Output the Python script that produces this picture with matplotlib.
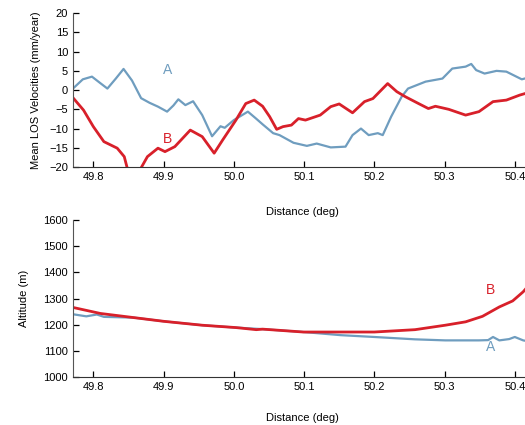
import matplotlib
matplotlib.use('Agg')
from matplotlib import pyplot as plt

plt.rcParams['font.family'] = ['Liberation Sans', 'DejaVu Sans']

# top panel: mean LOS velocities (mm/year)
vel_a_x = [49.771, 49.785, 49.798, 49.81, 49.82, 49.832, 49.843, 49.855, 49.868,
           49.88, 49.892, 49.905, 49.914, 49.921, 49.931, 49.942, 49.955, 49.969,
           49.981, 49.987, 50.0, 50.02, 50.031, 50.041, 50.056, 50.065, 50.085,
           50.104, 50.118, 50.138, 50.159, 50.169, 50.181, 50.192, 50.205, 50.212,
           50.224, 50.239, 50.248, 50.273, 50.297, 50.311, 50.33, 50.338, 50.345,
           50.357, 50.374, 50.388, 50.41, 50.424]
vel_a = [0.4, 2.8, 3.5, 1.8, 0.4, 3.0, 5.5, 2.5, -2.1,
         -3.3, -4.3, -5.6, -4.0, -2.4, -3.9, -2.9, -6.5, -12.0,
         -9.4, -9.8, -7.8, -5.6, -7.3, -8.9, -11.2, -11.7, -13.7,
         -14.5, -13.9, -14.9, -14.7, -11.7, -10.0, -11.7, -11.2, -11.7,
         -6.9, -1.7, 0.4, 2.2, 3.0, 5.6, 6.1, 6.8, 5.2,
         4.3, 5.0, 4.8, 2.8, 3.5]

vel_b_x = [49.772, 49.786, 49.8, 49.815, 49.834, 49.844, 49.85, 49.857, 49.864,
           49.877, 49.892, 49.902, 49.916, 49.938, 49.955, 49.972, 49.984, 50.003,
           50.017, 50.029, 50.041, 50.051, 50.061, 50.07, 50.082, 50.092, 50.102,
           50.123, 50.138, 50.15, 50.169, 50.186, 50.198, 50.219, 50.232, 50.244,
           50.263, 50.277, 50.287, 50.306, 50.33, 50.349, 50.369, 50.388, 50.407,
           50.424]
vel_b = [-2.2, -5.2, -9.5, -13.4, -15.1, -17.3, -21.5, -24.0, -21.5,
         -17.3, -15.1, -16.0, -14.7, -10.4, -12.1, -16.4, -13.0, -7.8,
         -3.5, -2.6, -4.2, -6.9, -10.2, -9.5, -9.1, -7.4, -7.8,
         -6.5, -4.3, -3.6, -5.9, -3.0, -2.2, 1.7, -0.4, -1.7,
         -3.5, -4.8, -4.2, -5.0, -6.5, -5.6, -3.0, -2.6, -1.3,
         -0.4]

# bottom panel: altitude (m)
alt_a_x = [49.771, 49.79, 49.805, 49.815, 49.858, 49.9, 49.955, 50.003, 50.041,
           50.099, 50.152, 50.2, 50.258, 50.301, 50.349, 50.362, 50.369, 50.378,
           50.392, 50.4, 50.412, 50.424]
alt_a = [1240, 1232, 1239, 1230, 1227, 1213, 1198, 1189, 1183,
         1172, 1160, 1153, 1144, 1140, 1140, 1141, 1153, 1140,
         1145, 1153, 1140, 1134]

alt_b_x = [49.771, 49.81, 49.858, 49.9, 49.955, 50.003, 50.032, 50.041, 50.099,
           50.2, 50.258, 50.301, 50.33, 50.354, 50.378, 50.397, 50.412, 50.424]
alt_b = [1266, 1243, 1227, 1213, 1198, 1189, 1181, 1183, 1172,
         1172, 1181, 1198, 1211, 1232, 1268, 1291, 1326, 1364]

xticks = [49.8, 49.9, 50.0, 50.1, 50.2, 50.3, 50.4]

blue = '#6f9dbf'
red = '#d8202a'

fig = plt.figure(figsize=(5.25, 4.25), dpi=100)
ax1 = fig.add_axes([0.139, 0.607, 0.875, 0.362])
ax2 = fig.add_axes([0.139, 0.113, 0.875, 0.369])

ax1.plot(vel_a_x, vel_a, color=blue, lw=1.6)
ax1.plot(vel_b_x, vel_b, color=red, lw=2.0)
ax1.set_ylim(-20, 20)
ax1.set_yticks(range(-20, 21, 5))
ax1.set_ylabel('Mean LOS Velocities (mm/year)', fontsize=8, labelpad=6)
ax1.text(49.906, 5.2, 'A', color=blue, fontsize=10, ha='center', va='center')
ax1.text(49.906, -12.6, 'B', color=red, fontsize=10, ha='center', va='center')

ax2.plot(alt_a_x, alt_a, color=blue, lw=1.6)
ax2.plot(alt_b_x, alt_b, color=red, lw=2.0)
ax2.set_ylim(1000, 1600)
ax2.set_yticks(range(1000, 1601, 100))
ax2.set_ylabel('Altitude (m)', fontsize=8, labelpad=10)
ax2.text(50.366, 1332, 'B', color=red, fontsize=10, ha='center', va='center')
ax2.text(50.366, 1115, 'A', color=blue, fontsize=10, ha='center', va='center')

for ax, pad in ((ax1, 18), (ax2, 15)):
    ax.set_xlim(49.771, 50.425)
    ax.set_xticks(xticks)
    ax.set_xticklabels([f'{t:.1f}' for t in xticks])
    ax.set_xlabel('Distance (deg)', fontsize=8, labelpad=pad)
    ax.spines['top'].set_visible(False)
    ax.spines['right'].set_visible(False)
    ax.spines['left'].set_color('#555555')
    ax.spines['bottom'].set_color('#333333')
    ax.tick_params(direction='in', length=4, width=0.9, labelsize=8)

fig.savefig('out.png', dpi=100)
